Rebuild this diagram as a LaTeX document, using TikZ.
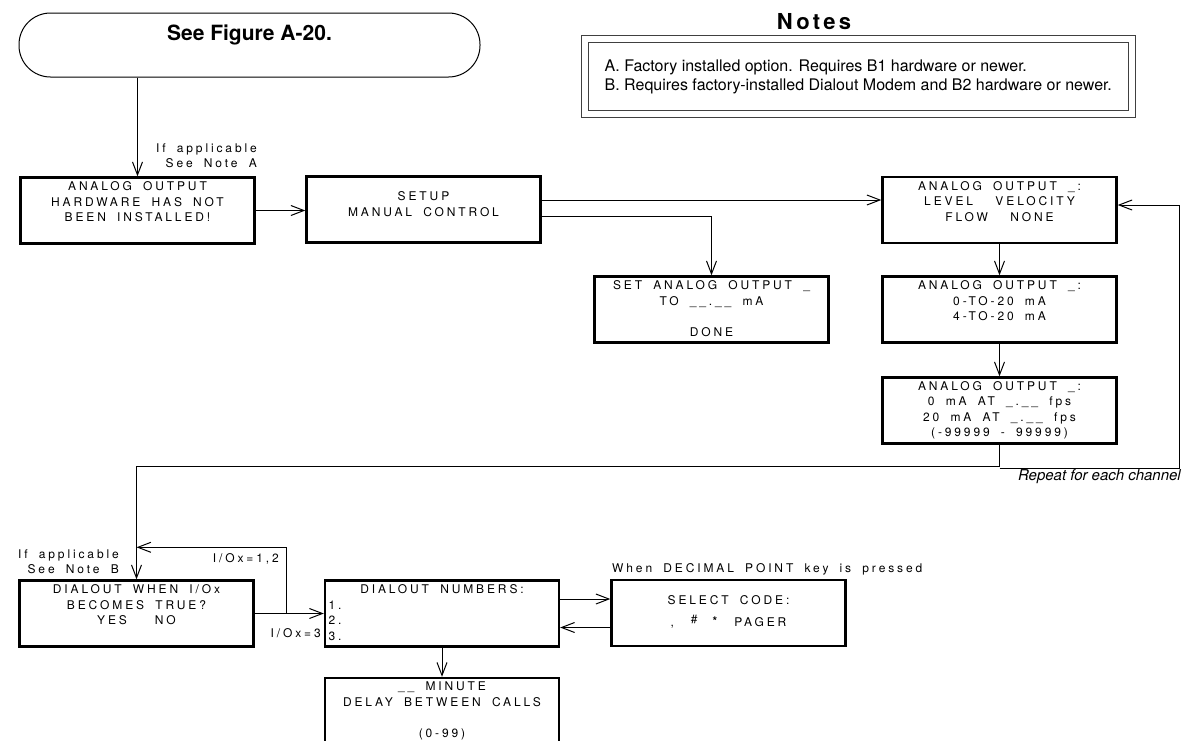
\documentclass[tikz,border=0pt]{standalone}
\usepackage{fontspec}
\setmainfont{TeX Gyre Heros}
\newfontfamily\lcdfont[LetterSpace=24,WordSpace=1.8]{TeX Gyre Heros}
\newfontfamily\headfont[LetterSpace=15]{TeX Gyre Heros}
\usetikzlibrary{arrows.meta,positioning}

\begin{document}
\begin{tikzpicture}[
  x=1pt,y=-1pt,
  term/.style={draw,line width=1pt,rounded corners=31.5pt,minimum width=461pt,
               inner sep=0pt,text height=27.5pt,text depth=36.5pt,
               font=\bfseries\fontsize{21}{24}\selectfont},
  disp/.style={rectangle,draw,line width=2.4pt,minimum width=234pt,
               minimum height=66pt,inner xsep=3.5pt,inner ysep=2pt,
               align=center,font=\lcdfont\fontsize{12}{15.5}\selectfont,
               execute at begin node={\rule{0pt}{13.35pt}},
               execute at end node={\rule[-2.15pt]{0pt}{2.15pt}}},
  notebox/.style={draw=black!75,line width=1pt,double,double distance=6pt,
                  minimum width=547.5pt,minimum height=75pt,align=left,
                  font=\fontsize{16}{19}\selectfont},
  lbl/.style={font=\lcdfont\fontsize{12}{15}\selectfont,inner sep=0pt},
  flow/.style={-{Straight Barb[length=13pt,width=10pt]},line width=1pt},
]
  \useasboundingbox (0,0) rectangle (1183,740);
  \fill[white] (0,0) rectangle (1183,740);

  % Entry point
  \node[term] (start) at (249.5,45) {See Figure A-20.};

  % Notes
  \node[font=\headfont\bfseries\fontsize{22}{24}\selectfont] (ntitle) at (814,22) {Notes};
  \node[notebox] (notes) at (858.25,76.5)
    {A. Factory installed option. Requires B1 hardware or newer.\\
     B. Requires factory-installed Dialout Modem and B2 hardware or newer.};

  % Analog output screens
  \node[disp] (nohw) at (137.5,210.5)
    {ANALOG OUTPUT\\HARDWARE HAS NOT\\BEEN INSTALLED!\\~};
  \node[disp] (setup) at (423.5,209.5) {~\\SETUP\\MANUAL CONTROL\\~};
  \node[disp] (aotype) at (999.5,210)
    {ANALOG OUTPUT \_:\\LEVEL~~VELOCITY\\FLOW~~NONE\\~};
  \node[disp] (manual) at (711.5,309.5)
    {SET ANALOG OUTPUT \_\\TO \_\_.\_\_ mA\\~\\DONE};
  \node[disp] (aorange) at (999.5,309.5)
    {ANALOG OUTPUT \_:\\0-TO-20 mA\\4-TO-20 mA\\~};
  \node[disp] (aoscale) at (999.5,410.5)
    {ANALOG OUTPUT \_:\\0 mA AT \_.\_\_ fps\\20 mA AT \_.\_\_ fps\\(-99999 - 99999)};

  % Dialout screens
  \node[disp] (dwhen) at (136.5,613.5)
    {DIALOUT WHEN I/Ox\\BECOMES TRUE?\\YES\hspace{28pt}NO\\~};
  \node[disp] (dnum) at (442,613.5)
    {DIALOUT NUMBERS:\\\makebox[227pt][l]{1.}\\\makebox[227pt][l]{2.}\\\makebox[227pt][l]{3.}};
  \node[disp] (scode) at (728.5,613)
    {~\\SELECT CODE:\\[6.5pt],\hspace{17pt}\raisebox{3pt}{\#}\hspace{15pt}\raisebox{1pt}{\bfseries\large*}\hspace{17pt}PAGER\\[-6.5pt]~};
  \node[disp] (delay) at (442,711)
    {\_\_ MINUTE\\DELAY BETWEEN CALLS\\~\\(0-99)};

  % Labels
  \node[lbl,align=right,anchor=east] (seeA) at (257,155.5) {If applicable\\See Note A};
  \node[lbl,align=right,anchor=east] (seeB) at (119,561.5) {If applicable\\See Note B};
  \node[lbl,anchor=east] (io12) at (279,559) {I/Ox=1,2};
  \node[lbl,anchor=east] (io3) at (321,633) {I/Ox=3};
  \node[lbl,anchor=west] (decpt) at (612,569) {When DECIMAL POINT key is pressed};
  \node[font=\itshape\fontsize{15}{18}\selectfont,anchor=east,inner sep=0pt]
    (repeat) at (1181,477) {Repeat for each channel};

  % Connectors
  \draw[flow] (start.south -| nohw.north) -- (nohw.north);
  \draw[flow] (nohw.east) -- (nohw.east -| setup.west);
  \draw[flow] ([yshift=9.5pt]setup.east) -- ([yshift=9.5pt]setup.east -| aotype.west);
  \draw[flow] ([yshift=-6.5pt]setup.east) -| (manual.north);
  \draw[flow] (aotype.south) -- (aorange.north);
  \draw[flow] (aorange.south) -- (aoscale.north);
  \draw[flow] (aoscale.south) -- ++(0,22) -| (dwhen.north);
  \draw[flow] (aoscale.south) ++(0,24) -| ([xshift=62pt,yshift=5pt]aotype.east)
    -- ([yshift=5pt]aotype.east);

  \draw[flow] (dwhen.east) -- (dnum.west);
  \draw[flow] ([xshift=32pt]dwhen.east) |- ([yshift=32pt]dwhen.north);
  \draw[flow] ([yshift=14.5pt]dnum.east) -- ([yshift=14.5pt]dnum.east -| scode.west);
  \draw[flow] ([yshift=-14.5pt]scode.west) -- ([yshift=-14.5pt]scode.west -| dnum.east);
  \draw[flow] (dnum.south) -- (delay.north);
\end{tikzpicture}
\end{document}
